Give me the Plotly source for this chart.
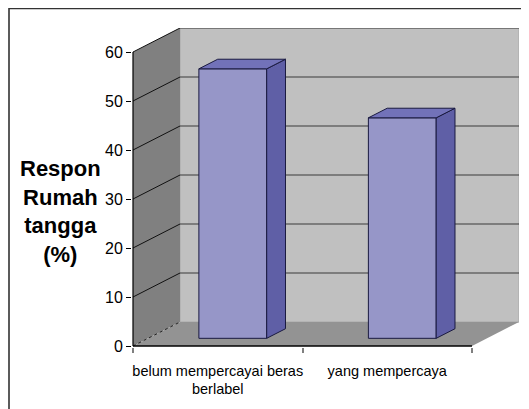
import plotly.graph_objects as go

# ---- data ----
categories = ["belum mempercayai beras<br>berlabel", "yang mempercaya"]
values = [55, 45]
y_ticks = [0, 10, 20, 30, 40, 50, 60]
y_title = "Respon<br>Rumah<br>tangga<br>(%)"

# ---- geometry (pixel layout of the pseudo-3D Excel chart) ----
OFF = 8                      # default page body margin
W, H = 529 - OFF, 409 - OFF
L, R, T, B = 132 - OFF, 10, 28 - OFF, 62
PLOT_W = W - L - R
PLOT_H = H - T - B
PXU_X = 169.5          # px per category unit
PXU_Y = 4.9            # px per value unit
DX = 47 / PXU_X        # depth offset in x units
DY = 24 / PXU_Y        # depth offset in y units
XMIN, XMAX = -0.5, len(categories) - 0.5
YMAX = max(y_ticks)
F0, F1 = 0.32, 0.72    # bar front/back depth fractions
HW = 0.2               # bar half width

x_lo = XMIN - 1 / PXU_X
x_hi = x_lo + PLOT_W / PXU_X
y_lo = -1 / PXU_Y
y_hi = y_lo + PLOT_H / PXU_Y

C_LEFT = "#808080"
C_BACK = "#c0c0c0"
C_FLOOR = "#939393"
C_FRONT = "#9696c8"
C_SIDE = "#5f5fa6"
C_TOP = "#7272b9"

fig = go.Figure()

def poly(xs, ys, fill, line_color=None, width=0):
    fig.add_trace(go.Scatter(
        x=xs + [xs[0]], y=ys + [ys[0]], mode="lines", fill="toself",
        fillcolor=fill,
        line=dict(color=line_color or fill, width=width if line_color else 0),
        hoverinfo="skip", showlegend=False))

def line(xs, ys, color, width=1, dash="solid"):
    fig.add_trace(go.Scatter(
        x=xs, y=ys, mode="lines", line=dict(color=color, width=width, dash=dash),
        hoverinfo="skip", showlegend=False))

# walls
poly([XMIN + DX, XMAX + DX, XMAX + DX, XMIN + DX], [DY, DY, YMAX + DY, YMAX + DY], C_BACK, "#a8a8a8", 1)
poly([XMIN, XMIN + DX, XMIN + DX, XMIN], [0, DY, YMAX + DY, YMAX], C_LEFT)
poly([XMIN, XMAX, XMAX + DX, XMIN + DX], [0, 0, DY, DY], C_FLOOR)

# gridlines
for v in y_ticks[1:]:
    line([XMIN, XMIN + DX], [v, v + DY], "#111111", 1)
    line([XMIN + DX, XMAX + DX], [v + DY, v + DY], "#3a3a3a", 1.2)
line([XMIN, XMIN + DX], [0, DY], "#222222", 1, "dot")

# bars (front, side, top)
for i, v in enumerate(values):
    xl, xr = i - HW, i + HW
    poly([xl + F0 * DX, xr + F0 * DX, xr + F0 * DX, xl + F0 * DX],
         [F0 * DY, F0 * DY, v + F0 * DY, v + F0 * DY], C_FRONT, "#1a1a40", 1)
    poly([xr + F0 * DX, xr + F1 * DX, xr + F1 * DX, xr + F0 * DX],
         [F0 * DY, F1 * DY, v + F1 * DY, v + F0 * DY], C_SIDE, "#1a1a40", 1)
    poly([xl + F0 * DX, xr + F0 * DX, xr + F1 * DX, xl + F1 * DX],
         [v + F0 * DY, v + F0 * DY, v + F1 * DY, v + F1 * DY], C_TOP, "#1a1a40", 1)

# front axis lines
line([XMIN, XMIN], [0, YMAX], "#000000", 1.2)
line([XMIN, XMAX], [0, 0], "#000000", 1.5)

# dummy trace for tick-mark axis
fig.add_trace(go.Scatter(x=[XMIN], y=[0], xaxis="x2", mode="markers",
                         marker=dict(opacity=0), hoverinfo="skip", showlegend=False))

font_family = "Arial, Liberation Sans, sans-serif"

fig.update_layout(
    width=W, height=H,
    margin=dict(l=L, r=R, t=T, b=B, pad=0),
    paper_bgcolor="white", plot_bgcolor="white",
    showlegend=False,
    font=dict(family=font_family, color="black"),
    xaxis=dict(range=[x_lo, x_hi], tickmode="array",
               tickvals=list(range(len(categories))), ticktext=categories,
               ticks="", showgrid=False, zeroline=False, showline=False,
               ticklabelstandoff=13,
               tickfont=dict(size=14.5), fixedrange=True),
    xaxis2=dict(range=[x_lo, x_hi], overlaying="x", anchor="y", side="bottom",
                tickmode="array",
                tickvals=[XMIN + k for k in range(len(categories) + 1)],
                showticklabels=False, ticks="outside", ticklen=5,
                tickcolor="#808080", tickwidth=1.5,
                showgrid=False, zeroline=False, showline=False, fixedrange=True),
    yaxis=dict(range=[y_lo, y_hi], tickmode="array", tickvals=y_ticks,
               ticks="outside", ticklen=5, tickcolor="black", tickwidth=1,
               showgrid=False, zeroline=False, showline=False,
               tickfont=dict(size=16), fixedrange=True),
)

fig.add_annotation(text=y_title, xref="paper", yref="paper",
                   x=(60 - OFF - L) / PLOT_W, y=(H - B - (211 - OFF)) / PLOT_H,
                   xanchor="center", yanchor="middle", showarrow=False,
                   align="center",
                   font=dict(size=22, family=font_family, color="black",
                             weight="bold"))

# outer chart border (partly outside the visible area)
fig.add_shape(type="rect", xref="paper", yref="paper",
              x0=(1 - L) / PLOT_W, x1=(540 - L) / PLOT_W,
              y0=(H - B - 420) / PLOT_H, y1=(H - B - 0.5) / PLOT_H,
              line=dict(color="#333333", width=1.6), layer="above")

fig.write_html("out.html")
